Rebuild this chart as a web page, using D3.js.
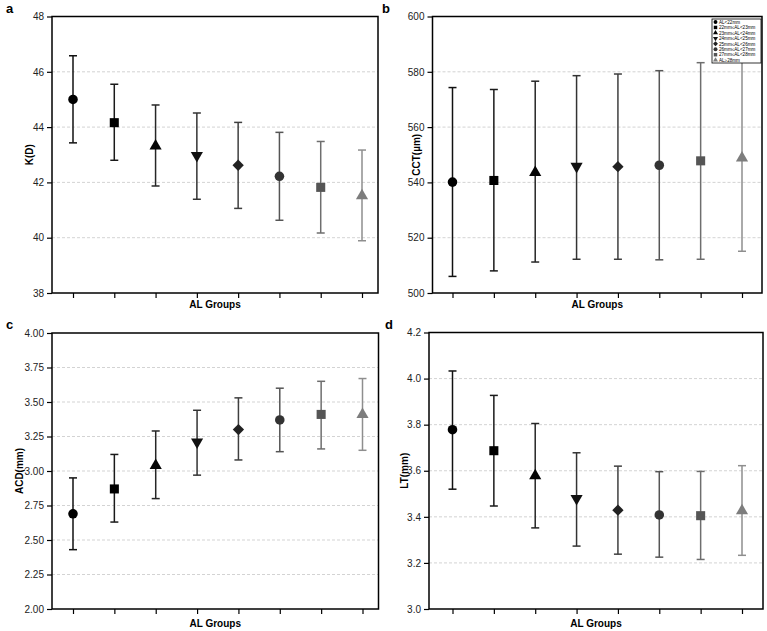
<!DOCTYPE html>
<html>
<head>
<meta charset="utf-8">
<script src="https://cdn.jsdelivr.net/npm/d3@7"></script>
<style>
  body { margin: 0; background: #fff; }
  svg { display: block; font-family: "Liberation Sans", Arial, sans-serif; }
</style>
</head>
<body>
<svg id="chart" width="767" height="631"></svg>
<script>
// groups of axial length
groups = ['AL<22mm', '22mm≤AL<23mm', '23mm≤AL<24mm', '24mm≤AL<25mm',
	'25mm≤AL<26mm', '26mm≤AL<27mm', '27mm≤AL<28mm', 'AL≥28mm']

// a: K(D)
kMean = [45.00, 44.16, 43.32, 42.97, 42.62, 42.22, 41.82, 41.52]
kUpper = [46.58, 45.55, 44.80, 44.51, 44.17, 43.81, 43.48, 43.17]
kLower = [43.43, 42.80, 41.87, 41.39, 41.06, 40.63, 40.17, 39.89]
kTicks = [38, 40, 42, 44, 46, 48]

// b: CCT(µm)
cctMean = [540.1, 540.7, 543.6, 545.8, 545.7, 546.2, 547.8, 548.8]
cctUpper = [574.3, 573.6, 576.6, 578.6, 579.2, 580.4, 583.3, 583.5]
cctLower = [506.0, 508.0, 511.2, 512.2, 512.2, 512.0, 512.2, 515.1]
cctTicks = [500, 520, 540, 560, 580, 600]

// c: ACD(mm)
acdMean = [2.69, 2.87, 3.04, 3.21, 3.30, 3.37, 3.41, 3.41]
acdUpper = [2.95, 3.12, 3.29, 3.44, 3.53, 3.60, 3.65, 3.67]
acdLower = [2.43, 2.63, 2.80, 2.97, 3.08, 3.14, 3.16, 3.15]
acdTicks = [2.00, 2.25, 2.50, 2.75, 3.00, 3.25, 3.50, 3.75, 4.00]

// d: LT(mm)
ltMean = [3.778, 3.687, 3.578, 3.480, 3.429, 3.408, 3.405, 3.426]
ltUpper = [4.033, 3.927, 3.805, 3.678, 3.620, 3.596, 3.597, 3.622]
ltLower = [3.520, 3.447, 3.352, 3.273, 3.238, 3.225, 3.215, 3.233]
ltTicks = [3.0, 3.2, 3.4, 3.6, 3.8, 4.0, 4.2]

shapes = ['circle', 'square', 'triangle', 'down', 'diamond', 'circle', 'square', 'triangle']
markerColors = ['#000000', '#000000', '#050505', '#111111', '#222222', '#333333', '#555555', '#7d7d7d']
lineColors = ['#111111', '#1a1a1a', '#262626', '#333333', '#3f3f3f', '#555555', '#6e6e6e', '#8e8e8e']

svg = d3.select('#chart')

function symbolPath(shape) {
	if (shape == 'circle') return d3.symbol().type(d3.symbolCircle).size(72)()
	if (shape == 'square') return d3.symbol().type(d3.symbolSquare).size(82)()
	if (shape == 'diamond') return d3.symbol().type(d3.symbolSquare).size(64)()
	return d3.symbol().type(d3.symbolTriangle).size(64)()
}
function symbolRotate(shape) {
	if (shape == 'down') return ' rotate(180)'
	if (shape == 'diamond') return ' rotate(45)'
	return ''
}

function drawPanel(p) {
	var g = svg.append('g')
	var yScale = d3.scaleLinear().domain(p.domain).range([p.bottom, p.top])
	var xScale = d3.scalePoint().domain(groups).range([p.left + p.inL, p.right - p.inR])

	// gridlines
	g.append('g').selectAll('line')
		.data(p.ticks.slice(1, -1))
		.enter().append('line')
		.attr('x1', p.left).attr('x2', p.right)
		.attr('y1', d => yScale(d)).attr('y2', d => yScale(d))
		.style('stroke', '#c8c8c8')
		.style('stroke-width', 0.8)
		.style('stroke-dasharray', '3,2')

	// axes
	var yAxis = d3.axisLeft(yScale).tickValues(p.ticks).tickFormat(p.fmt).tickSize(5).tickPadding(3)
	g.append('g').attr('transform', 'translate(' + p.left + ',0)').call(yAxis)
		.call(a => a.select('.domain').remove())
	var xAxis = d3.axisBottom(xScale).tickSize(5).tickFormat('')
	g.append('g').attr('transform', 'translate(0,' + p.bottom + ')').call(xAxis)
		.call(a => a.select('.domain').remove())
	g.selectAll('.tick line').style('stroke', '#000').style('stroke-width', 1.2)
	g.selectAll('.tick text').style('font-size', '10px').style('fill', '#222')

	// frame
	g.append('rect')
		.attr('x', p.left).attr('y', p.top)
		.attr('width', p.right - p.left).attr('height', p.bottom - p.top)
		.style('fill', 'none').style('stroke', '#000').style('stroke-width', 1.5)

	// error bars
	var bars = g.append('g').selectAll('g')
		.data(groups.map((d, i) => ({ g: d, i: i, m: p.mean[i], u: p.upper[i], l: p.lower[i] })))
		.enter().append('g')
	bars.append('line')
		.attr('x1', d => xScale(d.g)).attr('x2', d => xScale(d.g))
		.attr('y1', d => yScale(d.u)).attr('y2', d => yScale(d.l))
		.style('stroke', d => lineColors[d.i]).style('stroke-width', 1.5)
	bars.append('line')
		.attr('x1', d => xScale(d.g) - 4).attr('x2', d => xScale(d.g) + 4)
		.attr('y1', d => yScale(d.u)).attr('y2', d => yScale(d.u))
		.style('stroke', d => lineColors[d.i]).style('stroke-width', 1.5)
	bars.append('line')
		.attr('x1', d => xScale(d.g) - 4).attr('x2', d => xScale(d.g) + 4)
		.attr('y1', d => yScale(d.l)).attr('y2', d => yScale(d.l))
		.style('stroke', d => lineColors[d.i]).style('stroke-width', 1.5)
	bars.append('path')
		.attr('d', d => symbolPath(shapes[d.i]))
		.attr('transform', d => 'translate(' + xScale(d.g) + ',' + yScale(d.m) + ')' + symbolRotate(shapes[d.i]))
		.style('fill', d => markerColors[d.i])

	// axis titles
	g.append('text')
		.attr('x', (p.left + p.right) / 2).attr('y', p.bottom + p.xlabDy)
		.attr('text-anchor', 'middle')
		.style('font-size', '10px').style('font-weight', 'bold')
		.text('AL Groups')
	g.append('text')
		.attr('transform', 'translate(' + p.ylabX + ',' + (p.top + p.bottom) / 2 + ') rotate(-90)')
		.attr('text-anchor', 'middle')
		.style('font-size', '10px').style('font-weight', 'bold')
		.text(p.ylabel)
	g.append('text')
		.attr('x', p.tagX).attr('y', p.tagY)
		.style('font-size', '13px').style('font-weight', 'bold')
		.text(p.tag)
	return g
}

drawPanel({ tag: 'a', tagX: 6, tagY: 13, ylabel: 'K(D)', ylabX: 32.5, xlabDy: 15,
	left: 52, right: 378, top: 16.5, bottom: 293, inL: 21, inR: 16,
	domain: [38, 48], ticks: kTicks, fmt: d3.format('d'),
	mean: kMean, upper: kUpper, lower: kLower })

var gb = drawPanel({ tag: 'b', tagX: 382, tagY: 13, ylabel: 'CCT(µm)', ylabX: 420, xlabDy: 15,
	left: 432.5, right: 762, top: 16.5, bottom: 293, inL: 20, inR: 20,
	domain: [500, 600], ticks: cctTicks, fmt: d3.format('d'),
	mean: cctMean, upper: cctUpper, lower: cctLower })

drawPanel({ tag: 'c', tagX: 6, tagY: 329, ylabel: 'ACD(mm)', ylabX: 23, xlabDy: 18,
	left: 52, right: 378.5, top: 333, bottom: 609, inL: 21, inR: 16,
	domain: [2, 4], ticks: acdTicks, fmt: d3.format('.2f'),
	mean: acdMean, upper: acdUpper, lower: acdLower })

drawPanel({ tag: 'd', tagX: 385, tagY: 329, ylabel: 'LT(mm)', ylabX: 408, xlabDy: 18,
	left: 429, right: 763, top: 332.5, bottom: 609, inL: 23.5, inR: 21,
	domain: [3.0, 4.2], ticks: ltTicks, fmt: d3.format('.1f'),
	mean: ltMean, upper: ltUpper, lower: ltLower })

// legend in panel b
legend = gb.append('g').attr('transform', 'translate(712,19)')
legend.append('rect')
	.attr('width', 49).attr('height', 44)
	.style('fill', '#fff').style('stroke', '#000').style('stroke-width', 0.8)
legRows = legend.selectAll('g.row')
	.data(groups)
	.enter().append('g')
	.attr('class', 'row')
	.attr('transform', (d, i) => 'translate(3.5,' + (3 + i * 5.45) + ')')
legRows.append('path')
	.attr('d', (d, i) => {
		var s = shapes[i]
		if (s == 'circle') return d3.symbol().type(d3.symbolCircle).size(12)()
		if (s == 'square' || s == 'diamond') return d3.symbol().type(d3.symbolSquare).size(12)()
		return d3.symbol().type(d3.symbolTriangle).size(11)()
	})
	.attr('transform', (d, i) => symbolRotate(shapes[i]))
	.style('fill', (d, i) => markerColors[i])
legRows.append('text')
	.attr('x', 3.5).attr('y', 1.7)
	.style('font-size', '4.6px')
	.text(d => d)
</script>
</body>
</html>
